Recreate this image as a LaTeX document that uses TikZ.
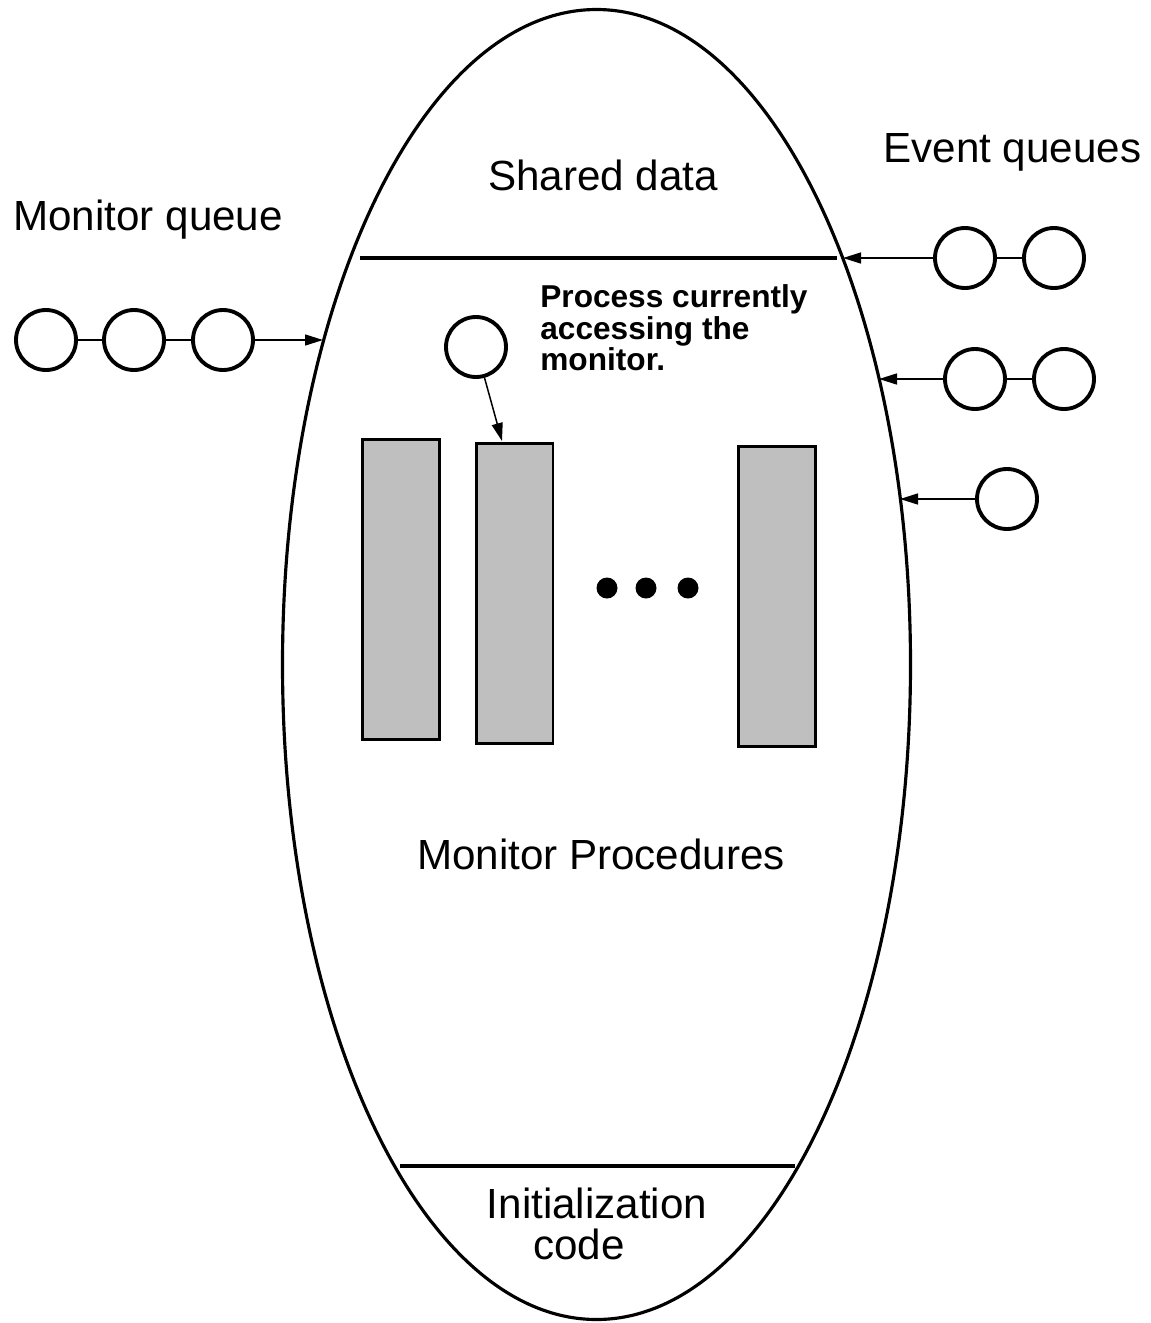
\documentclass[tikz,border=0pt]{standalone}
\usepackage{fontspec}
\setmainfont{Liberation Sans}
\usetikzlibrary{arrows.meta}

\definecolor{procgray}{gray}{0.75}

\tikzset{
  queue/.style={draw, circle, line width=2.2pt, minimum size=1.2cm, inner sep=0pt},
  procbox/.style={draw, fill=procgray, line width=1.7pt, minimum width=1.54cm, minimum height=6cm, inner sep=0pt},
  link/.style={line width=0.85pt},
  enter/.style={link, -{Triangle[length=0.36cm,width=0.22cm]}},
  label/.style={inner sep=0pt, font=\fontsize{24}{24}\selectfont},
}

\begin{document}
\begin{tikzpicture}[x=0.02cm, y=-0.02cm]
\useasboundingbox (0,0) rectangle (1151,1323);

% the monitor
\draw[line width=1.8pt] (596.5,664.5) ellipse [x radius=314, y radius=655];
\draw[line width=1.8pt] (360,258) -- (837,258);
\draw[line width=1.8pt] (400,1166) -- (795,1166);

\node[label, anchor=base] (shared) at (603,190) {Shared data};
\node[label, anchor=base] (procs) at (601,869) {Monitor Procedures};
\node[label, anchor=base] (init) at (597,1218) {Initialization};
\node[label, anchor=base] (initcode) at (579,1259) {code};

% procedures
\node[procbox] (p1) at (401,589.5) {};
\node[procbox] (p2) at (514.5,593.5) {};
\node[procbox] (p3) at (777,596.5) {};
\foreach \x in {607,646,688}
  \fill (\x,588) circle (0.21cm);

% process inside
\node[queue] (cur) at (476,347) {};
\coordinate (curin) at (502,441);
\draw[enter] (cur) -- (curin);
\node[inner sep=0pt, anchor=north west, align=left,
  font=\fontsize{18}{18.1}\selectfont\bfseries] (curtxt) at (540,284)
  {Process currently\\accessing the\\monitor.};

% monitor queue
\node[label, anchor=base west] (mqtxt) at (13,230) {Monitor queue};
\node[queue] (mq1) at (46,340) {};
\node[queue] (mq2) at (134,340) {};
\node[queue] (mq3) at (223,340) {};
\coordinate (mqin) at (323,340);
\draw[link] (mq1) -- (mq2);
\draw[link] (mq2) -- (mq3);
\draw[enter] (mq3) -- (mqin);

% event queues
\node[label, anchor=base west] (eqtxt) at (883,162) {Event queues};
\node[queue] (ea1) at (965,258) {};
\node[queue] (ea2) at (1054,258) {};
\node[queue] (eb1) at (975,379) {};
\node[queue] (eb2) at (1064,379) {};
\node[queue] (ec1) at (1007,499) {};
\coordinate (eain) at (843,258);
\coordinate (ebin) at (879,379);
\coordinate (ecin) at (900,499);
\draw[link] (ea1) -- (ea2);
\draw[link] (eb1) -- (eb2);
\draw[enter] (ea1) -- (eain);
\draw[enter] (eb1) -- (ebin);
\draw[enter] (ec1) -- (ecin);

\end{tikzpicture}
\end{document}
